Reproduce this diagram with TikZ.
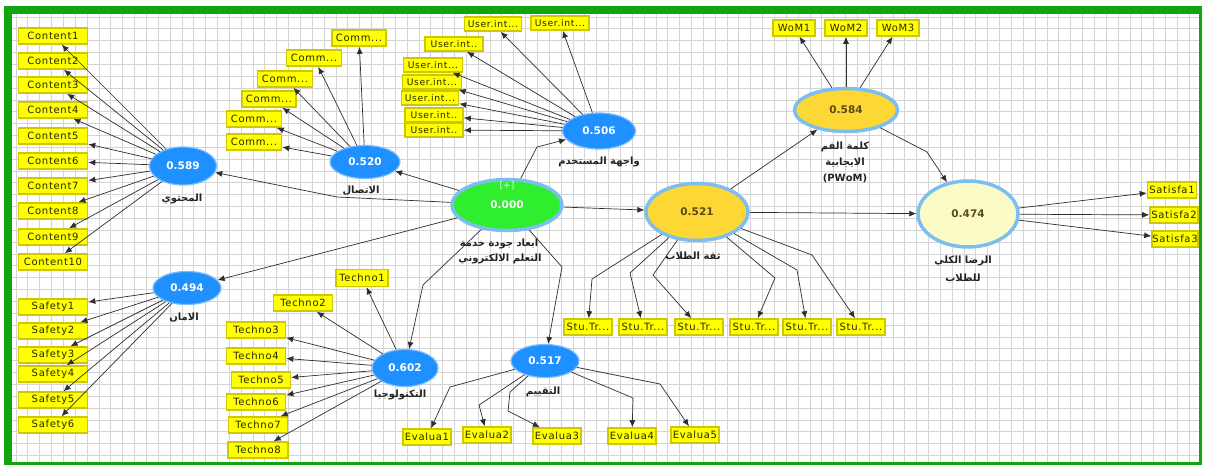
\documentclass[tikz,border=0pt]{standalone}
\usepackage{fontspec}
\setmainfont{DejaVu Sans}
\newfontfamily\indfont[LetterSpace=7]{DejaVu Sans}
\newfontfamily\arabicfont[Script=Arabic]{DejaVu Sans}
\TeXXeTstate=1
\usetikzlibrary{shapes.geometric,arrows.meta}
\definecolor{gridc}{HTML}{D4D4D4}
\definecolor{frameg}{HTML}{12A512}
\definecolor{indfill}{HTML}{FFFF00}
\definecolor{indborder}{HTML}{CFC800}
\definecolor{indtext}{HTML}{262600}
\definecolor{lvblue}{HTML}{1E90FF}
\definecolor{lvborder}{HTML}{7DBDFF}
\definecolor{thickb}{HTML}{7DBEF0}
\definecolor{eqgreen}{HTML}{2EEE2E}
\definecolor{gold}{HTML}{FDD835}
\definecolor{goldtext}{HTML}{5C4A14}
\definecolor{paley}{HTML}{FBFBC8}
\definecolor{arrcol}{HTML}{2E2E2E}
\definecolor{labcol}{HTML}{222222}
\begin{document}
\begin{tikzpicture}[x=1pt,y=-1pt,
  ind/.style={rectangle, fill=indfill, draw=indborder, line width=1.6pt, inner sep=0pt,
    minimum height=16pt, minimum width=#1, text=indtext, font=\indfont\fontsize{10}{11}\selectfont},
  ind/.default=48pt,
  uind/.style={ind=#1, minimum height=14pt, font=\indfont\fontsize{9.2}{10}\selectfont},
  lvb/.style={ellipse, fill=lvblue, draw=lvborder, line width=1.2pt, inner sep=0pt,
    text=white, font=\bfseries\fontsize{10.5}{12}\selectfont},
  lvg/.style={ellipse, fill=gold, draw=thickb, line width=3.5pt, inner sep=0pt,
    text=goldtext, font=\bfseries\fontsize{10.5}{12}\selectfont},
  arr/.style={draw=arrcol, line width=0.7pt, -{Latex[length=7pt,width=6pt]}},
  lab/.style={inner sep=0pt, text=labcol, font=\arabicfont\bfseries\fontsize{10}{12}\selectfont, align=center},
  gridl/.style={draw=gridc, line width=0.8pt}
]
\useasboundingbox (0,0) rectangle (1205,465);
\fill[white] (0,0) rectangle (1205,465);
\fill[frameg] (4,6) rectangle (1202,465);
\fill[white] (12,14) rectangle (1199,462);
\foreach \i in {0,...,99} {\draw[gridl] ({16+11.85*\i},14) -- ({16+11.85*\i},462);}
\foreach \j in {0,...,37} {\draw[gridl] (12,{17+11.85*\j}) -- (1199,{17+11.85*\j});}

% latent variables
\node[lvb, minimum width=67pt, minimum height=38pt] (cont) at (183,166) {0.589};
\node[lvb, minimum width=70pt, minimum height=33pt] (comm) at (365,162) {0.520};
\node[lvb, minimum width=73pt, minimum height=36pt] (ui) at (599,131) {0.506};
\node[lvb, minimum width=68pt, minimum height=33pt] (safe) at (187,288) {0.494};
\node[lvb, minimum width=66pt, minimum height=37pt] (tech) at (405,368) {0.602};
\node[lvb, minimum width=68pt, minimum height=33pt] (eval) at (545,361) {0.517};
\node[ellipse, fill=eqgreen, draw=thickb, line width=3.5pt, inner sep=0pt, minimum width=110pt, minimum height=51pt,
  text=white, font=\bfseries\fontsize{10.5}{12}\selectfont] (eq) at (507,205) {\raisebox{-3pt}{0.000}};
\node[inner sep=0pt, text=white!92!green, font=\fontsize{9}{10}\selectfont] (eqplus) at (507,186) {[+]};
\node[lvg, minimum width=102pt, minimum height=57pt] (trust) at (697,212) {0.521};
\node[lvg, minimum width=103pt, minimum height=43pt] (wom) at (846,110) {0.584};
\node[lvg, fill=paley, minimum width=100pt, minimum height=66pt] (sat) at (968,214) {0.474};

% labels
\node[lab] (lcont) at (182,199) {\beginR المحتوي\endR};
\node[lab] (lcomm) at (361,191) {\beginR الاتصال\endR};
\node[lab] (lui) at (599,162) {\beginR واجهة المستخدم\endR};
\node[lab] (leq1) at (499,244) {\beginR ابعاد جودة خدمة\endR};
\node[lab] (leq2) at (500,259) {\beginR التعلم الالكتروني\endR};
\node[lab] (ltrust) at (693,256) {\beginR ثقة الطلاب\endR};
\node[lab] (lwom1) at (845,147) {\beginR كلمة الفم\endR};
\node[lab] (lwom2) at (845,163) {\beginR الايجابية\endR};
\node[lab] (lwom3) at (845,178) {(PWoM)};
\node[lab] (lsat1) at (963,261) {\beginR الرضا الكلي\endR};
\node[lab] (lsat2) at (963,278) {\beginR للطلاب\endR};
\node[lab] (lsafe) at (184,318) {\beginR الامان\endR};
\node[lab] (ltech) at (400,395) {\beginR التكنولوجيا\endR};
\node[lab] (leval) at (543,392) {\beginR التقييم\endR};

% content indicators
\foreach \n/\y in {1/36,2/61,3/85,4/110,5/136,6/161,7/186,8/211,9/237,10/262}
  {\node[ind=69pt] (c\n) at (53,\y) {Content\n};}
% communication
\node[ind=54pt] (m1) at (359,38) {Comm...};
\node[ind=55pt] (m2) at (314,58) {Comm...};
\node[ind=55pt] (m3) at (285,79) {Comm...};
\node[ind=54pt] (m4) at (269,99) {Comm...};
\node[ind=55pt] (m5) at (254,119) {Comm...};
\node[ind=55pt] (m6) at (254,142) {Comm...};
% user interface
\node[uind=57pt] (u1) at (493,24) {User.int...};
\node[uind=58pt] (u2) at (560,23) {User.int...};
\node[uind=58pt] (u3) at (454,44) {User.int..};
\node[uind=59pt] (u4) at (433,65) {User.int...};
\node[uind=59pt] (u5) at (432,82) {User.int...};
\node[uind=57pt] (u6) at (430,98) {User.int...};
\node[uind=58pt] (u7) at (434,115) {User.int..};
\node[uind=58pt] (u8) at (434,130) {User.int..};
% technology
\node[ind=52pt, minimum height=17pt] (t1) at (362,278) {Techno1};
\node[ind=59pt] (t2) at (303,303) {Techno2};
\node[ind=59pt] (t3) at (256,330) {Techno3};
\node[ind=59pt] (t4) at (256,356) {Techno4};
\node[ind=59pt] (t5) at (261,380) {Techno5};
\node[ind=59pt] (t6) at (256,402) {Techno6};
\node[ind=59pt] (t7) at (258,425) {Techno7};
\node[ind=60pt] (t8) at (258,450) {Techno8};
% safety
\foreach \n/\y in {1/307,2/331,3/355,4/374,5/400,6/425}
  {\node[ind=69pt] (s\n) at (53,\y) {Safety\n};}
% evaluation
\node[ind=48pt] (e1) at (427,437) {Evalua1};
\node[ind=48pt] (e2) at (487,435) {Evalua2};
\node[ind=48pt] (e3) at (557,436) {Evalua3};
\node[ind=48pt] (e4) at (632,436) {Evalua4};
\node[ind=48pt] (e5) at (695,435) {Evalua5};
% trust
\foreach \n/\x in {1/588,2/643,3/699,4/754,5/807,6/861}
  {\node[ind=48pt] (st\n) at (\x,327) {Stu.Tr...};}
% word of mouth
\node[ind=42pt] (w1) at (794,28) {WoM1};
\node[ind=42pt] (w2) at (846,28) {WoM2};
\node[ind=42pt] (w3) at (898,28) {WoM3};
% satisfaction
\node[ind=49pt] (sa1) at (1172,190) {Satisfa1};
\node[ind=48pt] (sa2) at (1174,215) {Satisfa2};
\node[ind=46pt] (sa3) at (1175,239) {Satisfa3};

% outer-model arrows
\foreach \n in {1,...,10} {\draw[arr] (cont) -- (c\n);}
\foreach \n in {1,...,6} {\draw[arr] (comm) -- (m\n);}
\foreach \n in {1,...,8} {\draw[arr] (ui) -- (u\n);}
\foreach \n in {1,...,8} {\draw[arr] (tech) -- (t\n);}
\foreach \n in {1,...,6} {\draw[arr] (safe) -- (s\n);}
\foreach \n in {1,2,3} {\draw[arr] (wom) -- (w\n);}
\foreach \n in {1,2,3} {\draw[arr] (sat) -- (sa\n);}
\draw[arr] (eval) -- (450,387) -- (e1);
\draw[arr] (eval) -- (479,405) -- (e2);
\draw[arr] (eval) -- (510,392) -- (508,411) -- (e3);
\draw[arr] (eval) -- (633,398) -- (e4);
\draw[arr] (eval) -- (660,384) -- (e5);
\draw[arr] (trust) -- (592,279) -- (st1);
\draw[arr] (trust) -- (630,273) -- (st2);
\draw[arr] (trust) -- (653,275) -- (st3);
\draw[arr] (trust) -- (775,278) -- (st4);
\draw[arr] (trust) -- (797,270) -- (st5);
\draw[arr] (trust) -- (812,255) -- (st6);

% inner-model arrows
\draw[arr] (eq) -- (337,197) -- (cont);
\draw[arr] (eq) -- (comm);
\draw[arr] (eq) -- (537,147) -- (ui);
\draw[arr] (eq) -- (trust);
\draw[arr] (eq) -- (safe);
\draw[arr] (eq) -- (423,285) -- (tech);
\draw[arr] (eq) -- (562,267) -- (eval);
\draw[arr] (trust) -- (wom);
\draw[arr] (trust) -- (sat);
\draw[arr] (wom) -- (927,152) -- (sat);
\end{tikzpicture}
\end{document}
